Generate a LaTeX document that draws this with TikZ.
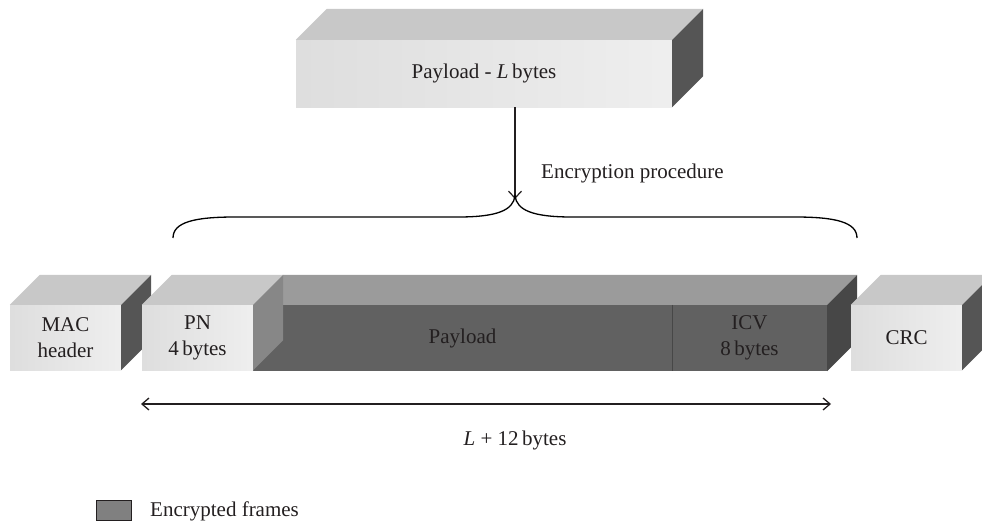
\documentclass[tikz,border=0pt]{standalone}
\usepackage{fontspec}
\setmainfont{Liberation Serif}
\usetikzlibrary{arrows.meta}

\definecolor{inkc}{HTML}{231F20}
\definecolor{lighttop}{HTML}{C8C8C8}
\definecolor{lightside}{HTML}{555555}
\definecolor{darktop}{HTML}{9B9B9B}
\definecolor{darkfront}{HTML}{616161}
\definecolor{darkside}{HTML}{474747}
\definecolor{pnside}{HTML}{878787}
\definecolor{legendfill}{HTML}{808080}

% side and top faces of a block whose front face is node #1
\newcommand\blockfaces[4]{%
  \fill[#2] (#1.north west) -- ++(#4,-#4) -- ([shift={(#4,-#4)}]#1.north east) -- (#1.north east) -- cycle;
  \fill[#3] (#1.north east) -- ++(#4,-#4) -- ([shift={(#4,-#4)}]#1.south east) -- (#1.south east) -- cycle;}

\begin{document}
\begin{tikzpicture}[x=1pt,y=-1pt,
  every node/.style={font=\fontsize{21}{26}\selectfont, text=inkc, align=center, inner sep=0pt},
  lightfront/.style={shade, left color=gray!26, middle color=white, right color=gray!13},
  darkface/.style={fill=darkfront},
  conn/.style={line width=1.2pt, draw=inkc},
  >={Straight Barb[length=7pt,width=13pt]}]
\useasboundingbox (0,0) rectangle (982,522);

% source payload block
\node[lightfront, minimum width=376pt, minimum height=67pt] (src) at (484,73.5) {Payload - \textit{L}\,bytes};
\blockfaces{src}{lighttop}{lightside}{31}

% MAC header block
\node[lightfront, minimum width=111pt, minimum height=65pt] (mac) at (65.5,337.5) {MAC\\header};
\blockfaces{mac}{lighttop}{lightside}{30}

% encrypted payload and ICV
\node[darkface, minimum width=419pt, minimum height=66pt] (pay) at (462.5,338) {};
\node[darkface, minimum width=155pt, minimum height=66pt] (icv) at (749.5,338) {ICV\\8\,bytes};
\fill[darktop] (pay.north west) -- ++(30,-30) -- ([shift={(30,-30)}]icv.north east) -- (icv.north east) -- cycle;
\fill[darkside] (icv.north east) -- ++(30,-30) -- ([shift={(30,-30)}]icv.south east) -- (icv.south east) -- cycle;
\draw[line width=0.6pt, draw=darkside] (icv.north west) -- (icv.south west);
\node (paytext) at (pay.center) {Payload};

% PN block
\node[lightfront, minimum width=111pt, minimum height=65pt] (pn) at (197.5,337.5) {PN\\4\,bytes};
\blockfaces{pn}{lighttop}{pnside}{30}

% CRC block
\node[lightfront, minimum width=111pt, minimum height=65pt] (crc) at (906.5,337.5) {CRC};
\blockfaces{crc}{lighttop}{lightside}{30}

% encryption arrow and brace
\coordinate (tip) at (515,196);
\coordinate (bl) at (173,238);
\coordinate (br) at (857,238);
\draw[conn, ->] (tip |- src.south) -- ([yshift=-3pt]tip);
\node[anchor=west] (enc) at (541,173) {Encryption procedure};
\draw[line width=1.3pt, draw=black] (bl) .. controls (173,222) and (195,217) .. (235,217)
  -- (458,217) .. controls (498,217) and (513,210) .. (tip)
  .. controls (517,210) and (532,217) .. (572,217)
  -- (795,217) .. controls (835,217) and (857,222) .. (br);

% length of the encrypted part
\coordinate (la) at (141,404);
\coordinate (lb) at (831,404);
\draw[line width=1.3pt, draw=inkc, <->, >={Straight Barb[length=7pt,width=12pt]}] (la) -- (lb);
\node (len) at (515,440) {\textit{L} + 12\,bytes};

% legend
\node[fill=legendfill, draw=inkc, line width=0.8pt, minimum width=35pt, minimum height=20pt] (leg) at (114,510.5) {};
\node[anchor=west] (legtext) at (150,511) {Encrypted frames};
\end{tikzpicture}
\end{document}
